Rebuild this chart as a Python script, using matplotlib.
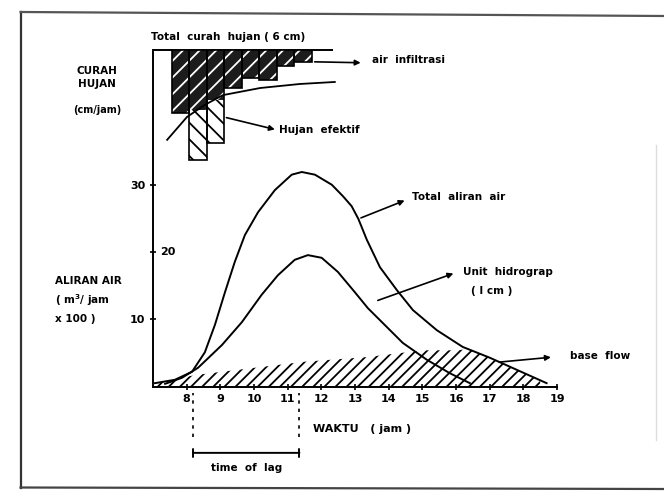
import numpy as np
import matplotlib
matplotlib.use("Agg")
import matplotlib.pyplot as plt
from matplotlib.lines import Line2D

# data read from the scanned hydrograph
# total runoff (Total aliran air), hour vs m3/jam x 100
total_jam = [7.06, 7.65, 8.16, 8.54, 8.84, 9.14, 9.43, 9.73, 10.12, 10.62, 11.12, 11.42,
             11.81, 12.31, 12.64, 12.90, 13.10, 13.35, 13.74, 14.24, 14.72, 15.43, 16.20,
             17.00, 17.80, 18.69]
total_q = [0.5, 1.0, 2.2, 5.1, 9.2, 14.1, 18.6, 22.6, 26.0, 29.3, 31.6, 32.0,
           31.6, 30.1, 28.4, 26.9, 25.0, 21.9, 17.8, 14.4, 11.4, 8.4, 5.9,
           4.3, 2.5, 0.5]

# unit hydrograph (1 cm)
unit_jam = [7.36, 7.86, 8.34, 9.05, 9.64, 10.23, 10.71, 11.21, 11.60, 12.01, 12.49,
            12.99, 13.38, 13.74, 14.42, 15.13, 15.81, 16.41]
unit_q = [0.4, 1.3, 2.8, 6.2, 9.6, 13.7, 16.6, 18.9, 19.6, 19.2, 17.1,
          14.1, 11.7, 9.9, 6.5, 4.0, 2.0, 0.5]

# base flow (upper edge of hatched area)
base_jam = [7.06, 8.25, 10.03, 11.51, 13.38, 15.01, 16.02, 16.40, 17.00, 17.80, 18.50]
base_q = [0.5, 1.7, 2.8, 3.7, 4.4, 5.4, 5.4, 5.6, 4.3, 2.5, 0.8]

# rainfall bars (cm/jam, drawn downwards from the top)
hujan_jam = [7.56, 8.08, 8.60, 9.12, 9.64, 10.16, 10.68, 11.20]
infiltrasi = [1.87, 1.78, 1.49, 1.13, 0.83, 0.89, 0.48, 0.36]
efektif = [0.0, 1.49, 1.28, 0.0, 0.0, 0.0, 0.0, 0.0]

# infiltration capacity curve
kurva_jam = [7.42, 8.01, 8.54, 9.08, 10.18, 11.36, 12.40]
kurva_cm = [2.67, 1.99, 1.63, 1.34, 1.13, 1.01, 0.95]

jam_ticks = list(range(8, 20))

plt.rcParams['font.family'] = ['DejaVu Sans']
plt.rcParams['font.weight'] = 'bold'
plt.rcParams['hatch.linewidth'] = 1.3

fig = plt.figure(figsize=(6.64, 5.0), dpi=100)
ax = fig.add_axes([0.2304, 0.227, 0.6085, 0.673])
ax.set_xlim(7, 19)
ax.set_ylim(0, 50.2)

# base flow
ax.fill_between(base_jam, 0, base_q, facecolor='none', edgecolor='black',
                hatch='///', linewidth=0)
ax.plot(total_jam, total_q, color='black', lw=1.4)
ax.plot(unit_jam, unit_q, color='black', lw=1.4)

for s in ['top', 'right']:
    ax.spines[s].set_visible(False)
ax.spines['left'].set_linewidth(1.4)
ax.spines['bottom'].set_linewidth(1.4)
ax.set_xticks(jam_ticks)
ax.set_xticklabels([str(t) for t in jam_ticks], fontsize=8, fontweight='bold')
ax.set_yticks([10, 20, 30])
ax.set_yticklabels(['10', '', '30'], fontsize=8, fontweight='bold')
ax.text(7.22, 20, '20', fontsize=8, fontweight='bold', va='center', ha='left')
ax.tick_params(direction='inout', length=5, width=1.2, pad=3)
ax.hlines(50.2, 7, 12.35, color='black', lw=1.4, clip_on=False)

# rainfall on an inverted twin axis
ax2 = ax.twinx()
ax2.set_ylim(10, 0)
for s in ax2.spines.values():
    s.set_visible(False)
ax2.set_yticks([])
ax2.bar(hujan_jam, infiltrasi, width=0.52, align='edge', color='#1c1c1c',
        edgecolor='white', hatch='//', linewidth=0)
ax2.bar(hujan_jam, efektif, width=0.52, bottom=infiltrasi, align='edge',
        color='white', edgecolor='black', hatch='\\\\', linewidth=0)
ax2.bar(hujan_jam, np.add(infiltrasi, efektif), width=0.52, align='edge',
        fill=False, edgecolor='black', linewidth=1.2)
ax2.plot(kurva_jam, kurva_cm, color='black', lw=1.3)

# annotations
arr = dict(arrowstyle='-|>', color='black', lw=1.2, mutation_scale=8)
ax2.annotate('', xy=(13.25, 0.38), xytext=(11.72, 0.35), arrowprops=arr)
ax2.text(13.5, 0.3, 'air  infiltrasi', fontsize=7.5, va='center')
ax2.annotate('', xy=(10.7, 2.38), xytext=(9.1, 1.99), arrowprops=arr)
ax2.text(10.75, 2.38, 'Hujan  efektif', fontsize=7.5, va='center')
ax.text(6.95, 52.2, 'Total  curah  hujan ( 6 cm)', fontsize=7.5, va='center')

ax.annotate('', xy=(14.55, 27.9), xytext=(13.1, 25.0), arrowprops=arr)
ax.text(14.7, 28.2, 'Total  aliran  air', fontsize=7.5, va='center')
ax.annotate('', xy=(16.0, 17.0), xytext=(13.6, 12.7), arrowprops=arr)
ax.text(16.2, 17.1, 'Unit  hidrograp', fontsize=7.5, va='center')
ax.text(17.05, 14.3, '( I cm )', fontsize=7.5, va='center', ha='center')
ax.annotate('', xy=(18.9, 4.4), xytext=(17.2, 3.6), arrowprops=arr)
ax.text(19.4, 4.5, 'base  flow', fontsize=7.5, va='center')

ax.text(11.75, -6.3, 'WAKTU   ( jam )', fontsize=8, va='center')
fig.text(0.146, 0.845, 'CURAH\nHUJAN', fontsize=7.5, ha='center', va='center',
         linespacing=1.3)
fig.text(0.146, 0.78, '(cm/jam)', fontsize=7, ha='center', va='center')
fig.text(0.083, 0.437, 'ALIRAN AIR', fontsize=7.5, ha='left', va='center')
fig.text(0.083, 0.400, '( m$^3$/ jam', fontsize=7.5, ha='left', va='center')
fig.text(0.083, 0.361, 'x 100 )', fontsize=7.5, ha='left', va='center')

# time of lag
ax.vlines([8.2, 11.35], -7.5, -1.0, colors='black', linestyles=(0, (2, 3)),
          lw=1.2, clip_on=False)
ax.annotate('', xy=(8.2, -9.9), xytext=(11.35, -9.9),
            arrowprops=dict(arrowstyle='|-|', lw=1.4, mutation_scale=3,
                            shrinkA=0, shrinkB=0), annotation_clip=False)
fig.text(0.372, 0.064, 'time  of  lag', fontsize=7.5, ha='center', va='center')

# scan frame
fig.add_artist(Line2D([0.031, 0.031], [0.025, 0.976], color='#333333', lw=1.6))
fig.add_artist(Line2D([0.031, 1.0], [0.976, 0.968], color='#555555', lw=1.6))
fig.add_artist(Line2D([0.031, 1.0], [0.025, 0.022], color='#444444', lw=1.6))
fig.add_artist(Line2D([0.988, 0.988], [0.12, 0.71], color='#dddddd', lw=1.0))

plt.savefig('out.png', dpi=100)
